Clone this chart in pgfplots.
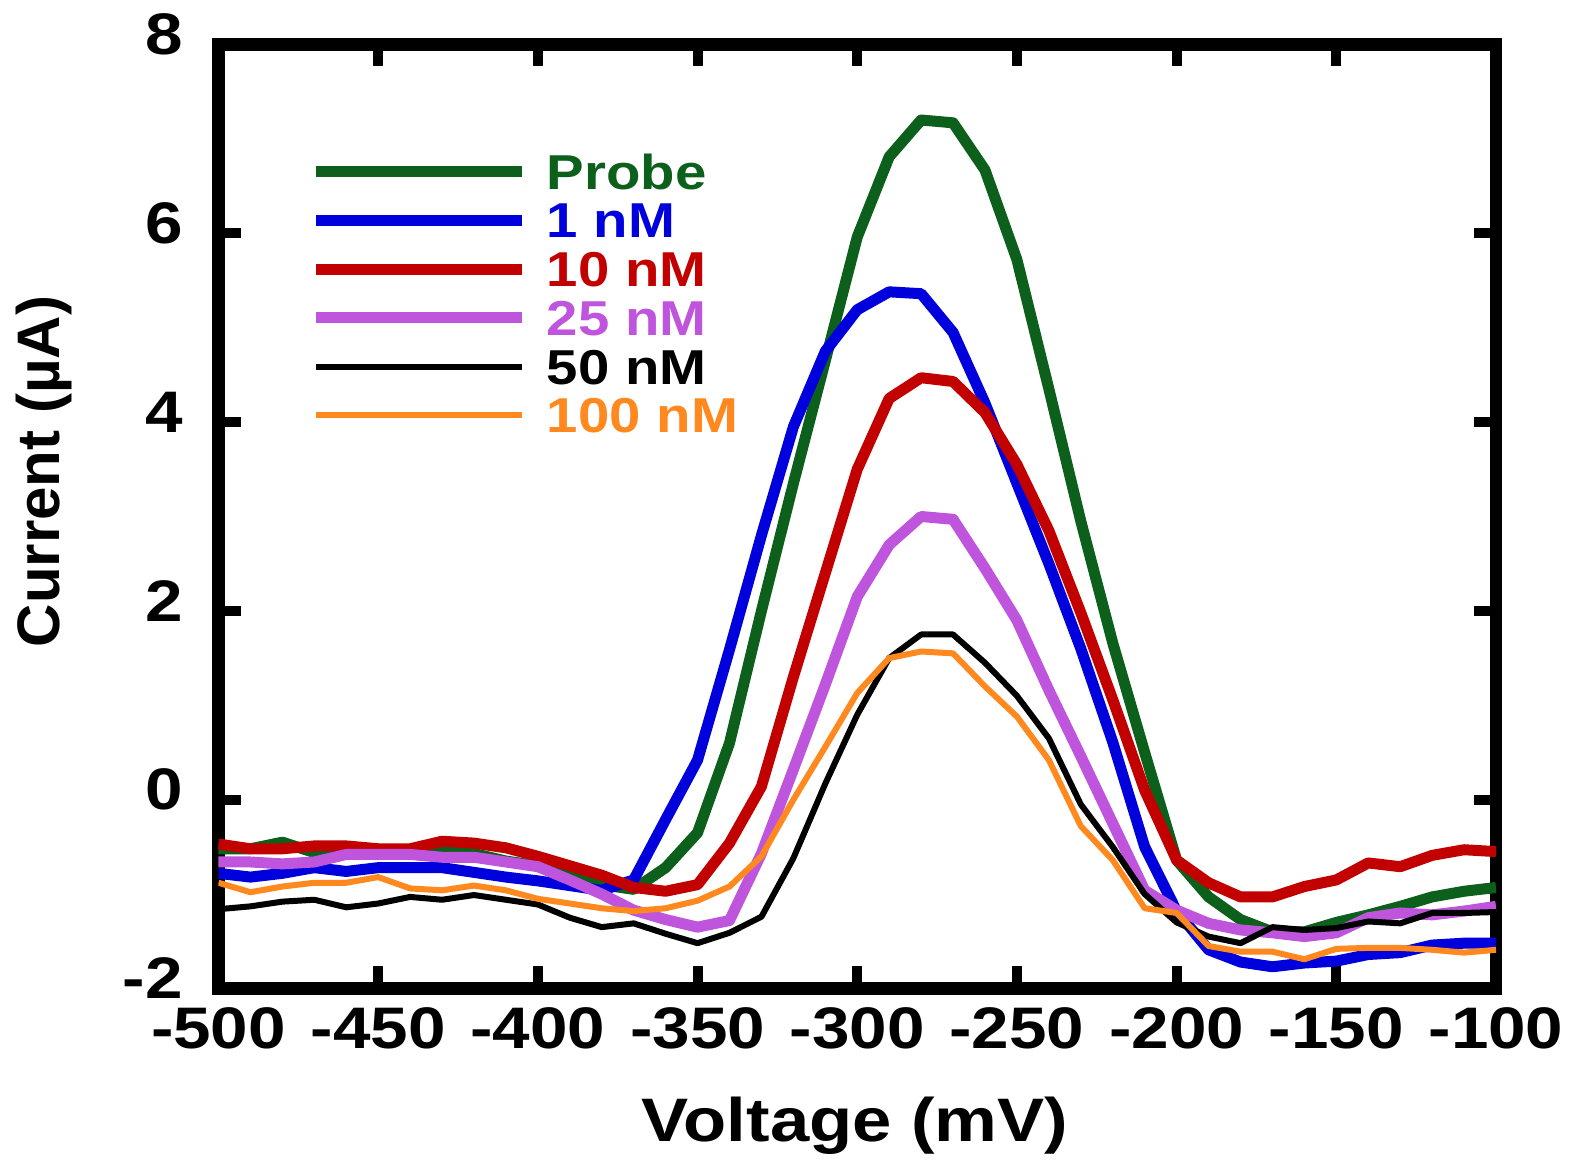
\documentclass[border=0pt]{standalone}
\usepackage{fontspec}
\setmainfont{Liberation Sans}[FakeStretch=1.15]
\newfontfamily\ylabfont{Liberation Sans}
\usepackage{pgfplots}
\usepackage{pgfplotstable}
\pgfplotsset{compat=1.18}
\definecolor{cgreen}{RGB}{12,96,28}
\definecolor{cblue}{RGB}{0,0,220}
\definecolor{cred}{RGB}{195,0,0}
\definecolor{cpurple}{RGB}{190,85,220}
\definecolor{corange}{RGB}{255,137,30}

\pgfplotstableread{
x     probe  na     nb     nc     nd     ne
-500  -0.52  -0.78  -0.47  -0.66  -1.16  -0.88
-490  -0.52  -0.82  -0.52  -0.66  -1.13  -0.98
-480  -0.45  -0.78  -0.52  -0.68  -1.08  -0.92
-470  -0.56  -0.72  -0.49  -0.66  -1.06  -0.88
-460  -0.52  -0.76  -0.49  -0.58  -1.14  -0.88
-450  -0.56  -0.72  -0.52  -0.58  -1.10  -0.82
-440  -0.56  -0.72  -0.52  -0.58  -1.03  -0.94
-430  -0.52  -0.72  -0.44  -0.61  -1.06  -0.96
-420  -0.57  -0.77  -0.46  -0.61  -1.01  -0.91
-410  -0.65  -0.82  -0.51  -0.66  -1.06  -0.96
-400  -0.70  -0.86  -0.60  -0.71  -1.11  -1.05
-390  -0.80  -0.91  -0.70  -0.85  -1.25  -1.10
-380  -0.90  -0.96  -0.80  -1.00  -1.35  -1.15
-370  -0.95  -0.85  -0.93  -1.17  -1.31  -1.18
-360  -0.72  -0.21  -0.97  -1.27  -1.42  -1.15
-350  -0.35   0.42  -0.90  -1.35  -1.52  -1.07
-340   0.60   1.59  -0.46  -1.28  -1.41  -0.92
-330   2.00   2.80   0.14  -0.57  -1.24  -0.60
-320   3.35   3.95   1.30   0.32  -0.62   0.00
-310   4.65   4.75   2.40   1.22   0.17   0.56
-300   5.96   5.19   3.50   2.15   0.90   1.13
-290   6.81   5.38   4.25   2.70   1.50   1.50
-280   7.20   5.36   4.47   3.00   1.75   1.57
-270   7.17   4.95   4.43   2.97   1.75   1.55
-260   6.67   4.20   4.10   2.45   1.45   1.20
-250   5.72   3.35   3.55   1.90   1.10   0.88
-240   4.35   2.50   2.85   1.16   0.65   0.42
-230   2.95   1.60   1.98   0.46  -0.05  -0.28
-220   1.66   0.61   1.06  -0.25  -0.50  -0.64
-210   0.50  -0.50   0.10  -0.96  -1.00  -1.15
-200  -0.64  -1.18  -0.64  -1.17  -1.30  -1.20
-190  -1.03  -1.59  -0.88  -1.31  -1.45  -1.55
-180  -1.27  -1.72  -1.03  -1.38  -1.52  -1.61
-170  -1.40  -1.77  -1.03  -1.41  -1.35  -1.61
-160  -1.40  -1.73  -0.92  -1.45  -1.38  -1.69
-150  -1.30  -1.71  -0.85  -1.41  -1.36  -1.58
-140  -1.22  -1.64  -0.67  -1.25  -1.29  -1.57
-130  -1.13  -1.62  -0.71  -1.20  -1.31  -1.57
-120  -1.03  -1.54  -0.59  -1.22  -1.20  -1.59
-110  -0.97  -1.52  -0.53  -1.18  -1.20  -1.62
-100  -0.93  -1.52  -0.55  -1.13  -1.19  -1.59
}\datatable

\begin{document}
\begin{tikzpicture}
\useasboundingbox (-109.25pt,-88.75pt) rectangle (678.25pt,494.25pt);
\begin{axis}[
  at={(0pt,0pt)}, anchor=south west,
  scale only axis, width=638.75pt, height=472pt,
  xmin=-500, xmax=-100, ymin=-2, ymax=8,
  xtick={-500,-450,...,-100},
  xticklabels={-500,-450,-400,-350,-300,-250,-200,-150,-100},
  ytick={-2,0,2,4,6,8},
  yticklabels={-2,0,2,4,6,8},
  axis line style={line width=6.25pt},
  tick style={line width=5pt, black},
  major tick length=11pt,
  tick align=inside,
  tick label style={font=\fontsize{29.3}{32}\selectfont\bfseries},
  xticklabel style={anchor=base, inner sep=0pt, yshift=-30.25pt},
  yticklabel style={anchor=east, inner sep=0pt, xshift=-17.75pt, yshift=5pt},
  legend style={at={(rel axis cs:0.067,0.8895)}, anchor=north west, draw=none, fill=none,
    row sep=6.35pt, column sep=0pt,
    nodes={inner sep=0pt, text height=18pt, text depth=0pt, anchor=base west},
    font=\fontsize{24.5}{26}\selectfont\bfseries},
  legend image code/.code={\draw[#1, line cap=butt] (0pt,8.75pt) -- (103pt,8.75pt); \path[draw=none] (0pt,8.75pt) -- (115.5pt,8.75pt);},
  legend cell align=left,
  every axis plot/.append style={line join=round},
]
\addplot[cgreen, line width=5.5pt] table[x=x, y=probe] {\datatable};
\addlegendentry{\textcolor{cgreen}{Probe}}
\addplot[cblue, line width=5.5pt] table[x=x, y=na] {\datatable};
\addlegendentry{\textcolor{cblue}{1 nM}}
\addplot[cred, line width=5.5pt] table[x=x, y=nb] {\datatable};
\addlegendentry{\textcolor{cred}{10 nM}}
\addplot[cpurple, line width=5.5pt] table[x=x, y=nc] {\datatable};
\addlegendentry{\textcolor{cpurple}{25 nM}}
\addplot[black, line width=3pt] table[x=x, y=nd] {\datatable};
\addlegendentry{\textcolor{black}{50 nM}}
\addplot[corange, line width=3pt] table[x=x, y=ne] {\datatable};
\addlegendentry{\textcolor{corange}{100 nM}}
\end{axis}
\node[anchor=base, font=\fontsize{30.7}{34}\selectfont\bfseries] at (318.25pt,-76.75pt) {Voltage (mV)};
\node[rotate=90, anchor=base, font=\ylabfont\fontsize{30}{34}\selectfont\bfseries] at (-79.5pt,258.5pt) {Current (µA)};
\end{tikzpicture}
\end{document}
